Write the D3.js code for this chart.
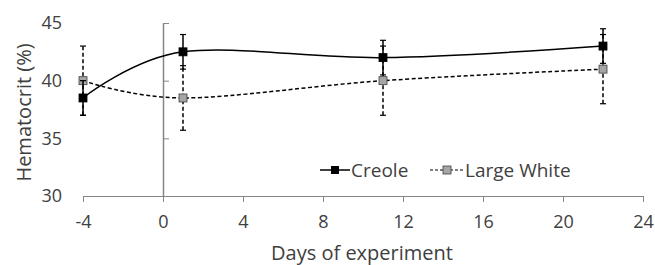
<!DOCTYPE html>
<html><head><meta charset="utf-8">
<script src="https://cdn.jsdelivr.net/npm/d3@7/dist/d3.min.js"></script>
<style>body{margin:0;background:#fff;} text{font-family:"Open Sans",sans-serif;fill:#404040;}</style>
</head><body>
<svg id="c" width="655" height="265"></svg>
<script>
const days = [-4, 1, 11, 22];
const creole = [38.5, 42.5, 42, 43];
const creoleErr = [1.5, 1.5, 1.5, 1.5];
const largeWhite = [40, 38.5, 40, 41];
const largeWhiteErr = [3, 2.8, 3, 3];
const xTicks = [-4, 0, 4, 8, 12, 16, 20, 24];
const yTicks = [30, 35, 40, 45];

const svg = d3.select("#c");
const x = d3.scaleLinear().domain([-4, 24]).range([83, 643]);
const y = d3.scaleLinear().domain([30, 45]).range([196, 23]);
const axisCol = "#868686";

// x axis
const xa = svg.append("g").attr("transform", `translate(0,${y(30)})`)
  .call(d3.axisBottom(x).tickValues(xTicks).tickSize(6).tickPadding(13).tickSizeOuter(0).tickFormat(d => String(d)));
xa.select(".domain").attr("stroke", axisCol);
xa.selectAll(".tick line").attr("stroke", axisCol);
xa.selectAll("text").attr("font-size", 18).style("fill", "#404040").attr("font-family", "Open Sans");

// y axis at x=0, ticks pointing right
const ya = svg.append("g").attr("transform", `translate(${x(0)},0)`)
  .call(d3.axisRight(y).tickValues(yTicks).tickSize(6).tickFormat("").tickSizeOuter(0));
ya.select(".domain").attr("stroke", axisCol).attr("stroke-width", 1.5);
ya.selectAll(".tick line").attr("stroke", axisCol);
// y labels at left
svg.append("g").selectAll("text").data(yTicks).join("text")
  .attr("x", 62).attr("y", d => y(d)).attr("dy", "0.35em").attr("text-anchor", "end")
  .attr("font-size", 18).text(d => d);

svg.append("text").attr("transform", `translate(31,${(y(30)+y(45))/2 + 3}) rotate(-90)`)
  .attr("text-anchor", "middle").attr("font-size", 20).text("Hematocrit (%)");
svg.append("text").attr("x", 362).attr("y", 260).attr("text-anchor", "middle")
  .attr("font-size", 20).text("Days of experiment");

const line = d3.line().x((d, i) => x(days[i])).y(d => y(d)).curve(d3.curveCardinal.tension(0));

function series(vals, errs, dashed, fill) {
  const g = svg.append("g");
  g.append("path").attr("d", line(vals)).attr("fill", "none").attr("stroke", "#000")
    .attr("stroke-width", 1.5).attr("stroke-dasharray", dashed ? "4,2.5" : null);
  vals.forEach((v, i) => {
    const cx = x(days[i]);
    g.append("line").attr("x1", cx).attr("x2", cx).attr("y1", y(v - errs[i])).attr("y2", y(v + errs[i]))
      .attr("stroke", "#000").attr("stroke-width", 1.5).attr("stroke-dasharray", dashed ? "4,2.5" : null);
    [v - errs[i], v + errs[i]].forEach(e => {
      g.append("line").attr("x1", cx - 3).attr("x2", cx + 3).attr("y1", y(e)).attr("y2", y(e))
        .attr("stroke", "#000").attr("stroke-width", 1.2);
    });
  });
  vals.forEach((v, i) => {
    g.append("rect").attr("x", x(days[i]) - 4).attr("y", y(v) - 4).attr("width", 8).attr("height", 8)
      .attr("fill", fill).attr("stroke", fill === "#000" ? "#000" : "#404040").attr("stroke-width", 0.8);
  });
}
series(largeWhite, largeWhiteErr, true, "#a6a6a6");
series(creole, creoleErr, false, "#000");

// legend
const ly = 170;
const lg = svg.append("g");
lg.append("line").attr("x1", 320).attr("x2", 350).attr("y1", ly).attr("y2", ly).attr("stroke", "#000").attr("stroke-width", 1.5);
lg.append("rect").attr("x", 331).attr("y", ly - 4).attr("width", 8).attr("height", 8).attr("fill", "#000");
lg.append("text").attr("x", 351).attr("y", ly).attr("dy", "0.35em").attr("font-size", 19).text("Creole");
lg.append("line").attr("x1", 430).attr("x2", 463).attr("y1", ly).attr("y2", ly).attr("stroke", "#000").attr("stroke-width", 1.2).attr("stroke-dasharray", "3,2");
lg.append("rect").attr("x", 443).attr("y", ly - 4).attr("width", 8).attr("height", 8).attr("fill", "#a6a6a6").attr("stroke", "#404040").attr("stroke-width", 0.8);
lg.append("text").attr("x", 465).attr("y", ly).attr("dy", "0.35em").attr("font-size", 19).text("Large White");
</script>
</body></html>
